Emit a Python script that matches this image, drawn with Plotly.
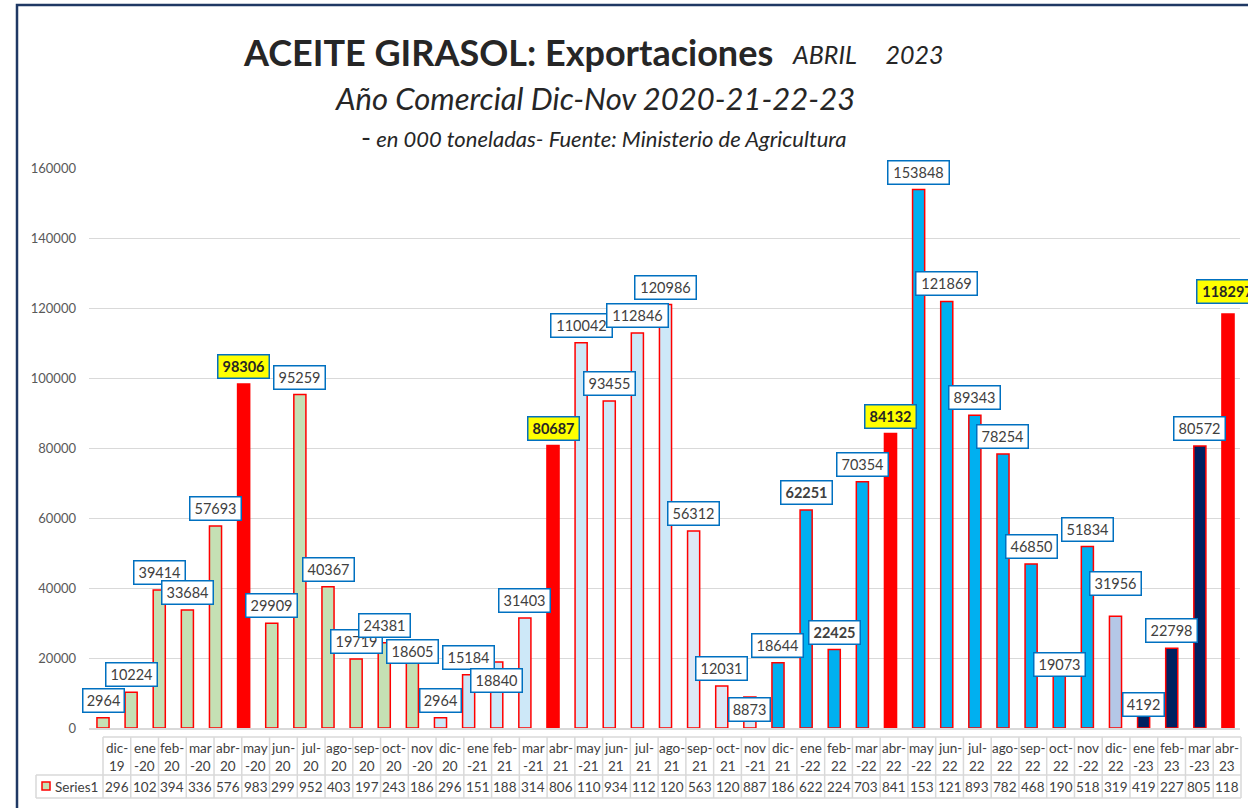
import plotly.graph_objects as go

# ---------------- data ----------------
months = ["dic-19", "ene-20", "feb-20", "mar-20", "abr-20", "may-20", "jun-20", "jul-20",
          "ago-20", "sep-20", "oct-20", "nov-20", "dic-20", "ene-21", "feb-21", "mar-21",
          "abr-21", "may-21", "jun-21", "jul-21", "ago-21", "sep-21", "oct-21", "nov-21",
          "dic-21", "ene-22", "feb-22", "mar-22", "abr-22", "may-22", "jun-22", "jul-22",
          "ago-22", "sep-22", "oct-22", "nov-22", "dic-22", "ene-23", "feb-23", "mar-23",
          "abr-23"]
values = [2964, 10224, 39414, 33684, 57693, 98306, 29909, 95259,
          40367, 19719, 24381, 18605, 2964, 15184, 18840, 31403,
          80687, 110042, 93455, 112846, 120986, 56312, 12031, 8873,
          18644, 62251, 22425, 70354, 84132, 153848, 121869, 89343,
          78254, 46850, 19073, 51834, 31956, 4192, 22798, 80572,
          118297]
series_name = "Series1"
y_ticks = [0, 20000, 40000, 60000, 80000, 100000, 120000, 140000, 160000]

# ---------------- styles ----------------
GREEN, RED, LBLUE, LGREY_BLUE = "#C5E0B4", "#FF0000", "#CDE8F8", "#DEE8F5"
BLUE, PALE, NAVY = "#00B0F0", "#B4C7E7", "#002060"
colors = []
for i in range(len(months)):
    if i in (5, 16, 28, 40):
        colors.append(RED)
    elif i < 12:
        colors.append(GREEN)
    elif i < 21:
        colors.append(LBLUE)
    elif i < 24:
        colors.append(LGREY_BLUE)
    elif i < 36:
        colors.append(BLUE)
    elif i == 36:
        colors.append(PALE)
    else:
        colors.append(NAVY)
yellow_idx = {5, 16, 28, 40}
bold_idx = {25, 26}
label_drop = {11: 6, 14: 36, 23: 30, 34: 21, 36: -15, 37: 9, 40: -5}

W, H = 1248, 808
L, R, T, B = 89, 8, 168, 80
PW, PH = W - L - R, H - T - B
def xp(px):
    return (px - L) / PW
def yp(py):
    return (T + PH - py) / PH

FONT = "Lato"
TXT = "#404040"
NB = "\u00a0"

fig = go.Figure()
fig.add_trace(go.Bar(
    x=months, y=values, width=0.43,
    marker=dict(color=colors, line=dict(color=RED, width=1.5)),
    hoverinfo="x+y", showlegend=False,
))

ann = []
# data labels
for i, v in enumerate(values):
    s = str(v)
    txt = "<b>%s</b>" % s if (i in yellow_idx or i in bold_idx) else s
    ann.append(dict(
        x=months[i], y=v, xref="x", yref="y", text=txt, showarrow=False,
        yanchor="bottom", xanchor="center", yshift=5 - label_drop.get(i, 0),
        font=dict(family=FONT, size=14.5, color="#262626" if i in yellow_idx else TXT),
        bgcolor="#FFFF00" if i in yellow_idx else "white",
        bordercolor="#0070C0", borderwidth=1.5, borderpad=2,
        width=10 * len(s) - 4, height=18, align="center",
    ))

# titles
ann.append(dict(x=xp(775), y=yp(52), xref="paper", yref="paper", xanchor="right", yanchor="middle",
                text="<b>ACEITE GIRASOL: Exportaciones</b>", showarrow=False,
                font=dict(family=FONT, size=36, color="#262626")))
ann.append(dict(x=xp(790), y=yp(54), xref="paper", yref="paper", xanchor="left", yanchor="middle",
                text="<i>ABRIL" + NB * 5 + "2023</i>", showarrow=False,
                font=dict(family=FONT, size=25, color="#262626")))
ann.append(dict(x=xp(595), y=yp(98), xref="paper", yref="paper", xanchor="center", yanchor="middle",
                text="<i>Año Comercial Dic-Nov 2020-21-22-23</i>", showarrow=False,
                font=dict(family=FONT, size=31, color="#262626")))
ann.append(dict(x=xp(604), y=yp(136), xref="paper", yref="paper", xanchor="center", yanchor="middle",
                text="<span style='font-size:27px'>-</span><i> en 000 toneladas- Fuente: Ministerio de Agricultura</i>",
                showarrow=False, font=dict(family=FONT, size=22, color="#262626")))

# data table
shapes = []
GRID = "#D9D9D9"
x0, cw = 103.0, (1241.0 - 103.0) / len(months)
ty0, ty1, ty2 = 737, 775, 798
def hline(xa, xb, yy):
    shapes.append(dict(type="line", xref="paper", yref="paper", x0=xp(xa), x1=xp(xb),
                       y0=yp(yy), y1=yp(yy), line=dict(color=GRID, width=1.5)))
def vline(xx, ya, yb):
    shapes.append(dict(type="line", xref="paper", yref="paper", x0=xp(xx), x1=xp(xx),
                       y0=yp(ya), y1=yp(yb), line=dict(color=GRID, width=1.5)))
hline(x0, 1241, ty0)
hline(36, 1241, ty1)
hline(36, 1241, ty2)
for k in range(len(months) + 1):
    vline(x0 + k * cw, ty0, ty2)
vline(36, ty1, ty2)

before = {"ene", "mar", "may", "nov"}
for k, m in enumerate(months):
    mon, yr = m.split("-")
    if mon in before:
        l1, l2 = mon, "-" + yr
    else:
        l1, l2 = mon + "-", yr
    cx = xp(x0 + (k + 0.5) * cw)
    for t, yy in ((l1, 748), (l2, 766)):
        ann.append(dict(x=cx, y=yp(yy), xref="paper", yref="paper", xanchor="center", yanchor="middle",
                        text=t, showarrow=False, font=dict(family=FONT, size=13.5, color=TXT)))
    ann.append(dict(x=cx, y=yp(787), xref="paper", yref="paper", xanchor="center", yanchor="middle",
                    text=str(values[k])[:3], showarrow=False, font=dict(family=FONT, size=13.5, color=TXT)))

ann.append(dict(x=xp(53), y=yp(787), xref="paper", yref="paper", xanchor="left", yanchor="middle",
                text=series_name, showarrow=False, font=dict(family=FONT, size=13.5, color=TXT)))
shapes.append(dict(type="rect", xref="paper", yref="paper", x0=xp(42), x1=xp(50), y0=yp(790), y1=yp(782),
                   fillcolor=GREEN, line=dict(color=RED, width=1.5)))

# chart frame (top and left visible)
shapes.append(dict(type="rect", xref="paper", yref="paper", x0=xp(17), x1=xp(1262), y0=yp(822), y1=yp(5),
                   line=dict(color="#1F3864", width=2.5), fillcolor="rgba(0,0,0,0)", layer="above"))

fig.update_layout(
    width=W, height=H,
    margin=dict(l=L, r=R, t=T, b=B, autoexpand=False),
    paper_bgcolor="white", plot_bgcolor="white",
    xaxis=dict(type="category", range=[-0.4978, 40.427], showticklabels=False, showgrid=False,
               zeroline=False, showline=True, linecolor=GRID, linewidth=1.5, ticks=""),
    yaxis=dict(range=[0, 160000], tickvals=y_ticks, ticktext=[str(t) for t in y_ticks],
               showgrid=True, gridcolor=GRID, gridwidth=1.3, zeroline=False, showline=False,
               tickfont=dict(family=FONT, size=13, color="#595959"), ticks="", ticklabelstandoff=12),
    annotations=ann, shapes=shapes, bargap=0.57,
)
fig.write_html("out.html", config={"displayModeBar": False},
               post_script="document.body.style.margin='0';document.body.style.overflow='hidden';")
